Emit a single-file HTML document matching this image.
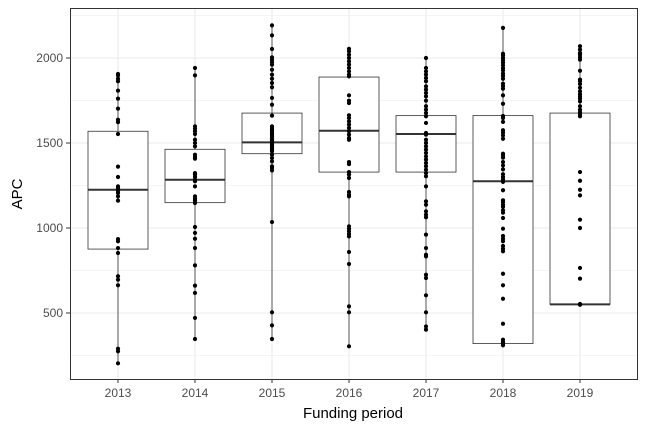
<!DOCTYPE html>
<html><head><meta charset="utf-8"><style>
body{margin:0;background:#fff}
svg{display:block;font-family:"Liberation Sans",sans-serif}
</style></head><body>
<svg id="chart" width="648" height="432" viewBox="0 0 648 432" xmlns="http://www.w3.org/2000/svg">
<rect x="0" y="0" width="648" height="432" fill="#fff"/>
<g id="grid"></g><g id="marks"></g><g id="axes"></g>
<rect x="70.5" y="8.5" width="567" height="371" fill="none" stroke="#333" stroke-width="1"/>
<text x="353" y="418" text-anchor="middle" font-size="15" fill="#000">Funding period</text>
<text transform="translate(22,194) rotate(-90)" text-anchor="middle" font-size="15" fill="#000">APC</text>
</svg>
<script>
const categories=["2013","2014","2015","2016","2017","2018","2019"];
const yTicks=[500,1000,1500,2000];
const p2013=[1906,1898,1878,1863,1808,1761,1702,1637,1623,1553,1361,1300,1245,1235,1219,1206,1186,1161,935,922,882,853,716,696,663,290,275,204];
const p2014=[1941,1898,1598,1584,1569,1553,1519,1500,1480,1431,1418,1408,1323,1314,1300,1284,1275,1245,1186,1172,1161,1147,1006,971,937,882,780,661,618,471,347];
const p2015=[2192,2133,2053,2004,1990,1976,1961,1931,1902,1878,1853,1828,1765,1725,1661,1598,1588,1578,1569,1559,1549,1539,1529,1519,1510,1500,1490,1480,1470,1461,1451,1431,1412,1392,1363,1353,1339,1035,504,427,347];
const p2016=[2054,2039,2019,2000,1980,1961,1941,1921,1902,1892,1780,1749,1735,1663,1647,1627,1608,1588,1569,1549,1529,1519,1388,1376,1329,1314,1294,1212,1196,1186,1010,996,980,965,951,859,788,539,504,304];
const p2017=[2000,1941,1921,1902,1882,1863,1833,1814,1794,1774,1749,1716,1696,1676,1657,1618,1559,1549,1519,1500,1480,1461,1441,1421,1402,1382,1363,1343,1323,1304,1245,1157,1137,1098,1078,1063,961,882,843,833,725,706,604,504,421,402];
const p2018=[2177,2025,2015,2000,1986,1972,1957,1941,1927,1908,1894,1878,1849,1835,1820,1780,1731,1659,1647,1624,1575,1561,1545,1525,1437,1427,1414,1388,1368,1345,1316,1300,1286,1271,1222,1163,1153,1137,1124,1104,1090,1059,996,953,937,922,894,878,863,731,663,584,437,343,329,320,310];
const p2019=[2069,2049,2029,2019,2004,1990,1925,1873,1863,1847,1825,1804,1788,1774,1761,1745,1716,1696,1682,1667,1657,1329,1278,1225,1192,1049,1000,765,702,553,549,549];
const points=[p2013,p2014,p2015,p2016,p2017,p2018,p2019];
const q1=[876,1149,1437,1329,1329,320,551];
const med=[1225,1284,1504,1572,1553,1275,551];
const q3=[1569,1463,1676,1888,1661,1661,1676];
const lo=[204,347,347,304,402,310,549];
const hi=[1906,1941,2192,2054,2000,2177,2069];

const NS="http://www.w3.org/2000/svg";
const x=i=>118+i*77;
const y=v=>313-(v-500)*0.17;
function mk(tag,attrs,parent){const e=document.createElementNS(NS,tag);for(const k in attrs)e.setAttribute(k,attrs[k]);parent.appendChild(e);return e;}
const grid=document.getElementById('grid'),marks=document.getElementById('marks'),axes=document.getElementById('axes');
// minor grid
for(let v=250;v<=2250;v+=500){const g=mk('line',{x1:70,x2:637,y1:y(v),y2:y(v),stroke:'#ebebeb','stroke-width':0.6},grid);

}
yTicks.forEach(v=>{const g=mk('line',{x1:70,x2:637,y1:y(v),y2:y(v),stroke:'#ebebeb','stroke-width':1.1},grid);


const t=mk('line',{x1:66,x2:70,y1:y(v),y2:y(v),stroke:'#333'},axes);


const l=mk('text',{x:63,y:y(v)+4,'text-anchor':'end','font-size':12,fill:'#4d4d4d'},axes);l.textContent=v;

});
categories.forEach((c,i)=>{const g=mk('line',{x1:x(i),x2:x(i),y1:8,y2:379,stroke:'#ebebeb','stroke-width':1.1},grid);


const t=mk('line',{x1:x(i),x2:x(i),y1:379,y2:383,stroke:'#333'},axes);


const l=mk('text',{x:x(i),y:397,'text-anchor':'middle','font-size':12,fill:'#4d4d4d'},axes);l.textContent=c;


const w=mk('line',{x1:x(i),x2:x(i),y1:y(hi[i]),y2:y(lo[i]),stroke:'#333','stroke-width':0.8},marks);


const b=mk('rect',{x:x(i)-30,y:y(q3[i]),width:60,height:y(q1[i])-y(q3[i]),fill:'#fff',stroke:'#333','stroke-width':0.8},marks);


const m=mk('line',{x1:x(i)-30,x2:x(i)+30,y1:y(med[i]),y2:y(med[i]),stroke:'#333','stroke-width':2},marks);


points[i].forEach(v=>{const p=mk('circle',{cx:x(i),cy:y(v),r:2.1,fill:'#000'},marks);

});
});
</script>
</body></html>
